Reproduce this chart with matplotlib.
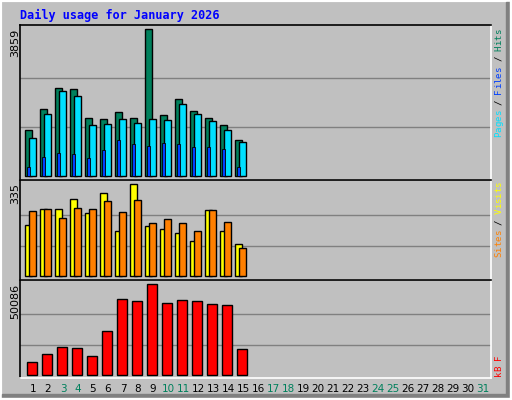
import matplotlib
matplotlib.use("Agg")
import matplotlib.pyplot as plt
from matplotlib.patches import Rectangle
import numpy as np

days = list(range(1, 32))
weekend_days = [3, 4, 10, 11, 17, 18, 24, 25, 31]
hits = [1199, 1750, 2301, 2275, 1514, 1488, 1671, 1514, 3859, 1593, 2013, 1698, 1514, 1330, 936]
pages = [989, 1619, 2223, 2091, 1330, 1356, 1488, 1383, 1488, 1461, 1881, 1619, 1435, 1199, 884]
files = [236, 499, 604, 578, 473, 683, 945, 840, 788, 866, 840, 761, 761, 709, 236]
visits = [186, 244, 244, 281, 230, 302, 164, 335, 183, 172, 157, 128, 241, 164, 117]
sites = [237, 244, 212, 248, 244, 273, 233, 277, 193, 208, 193, 164, 241, 197, 103]
kbytes = [7312, 11699, 15538, 14989, 10602, 24312, 41859, 40763, 50086, 39666, 41311, 40763, 39118, 38570, 14441]

W, H = 512, 400
fig = plt.figure(figsize=(W/100, H/100), dpi=100, facecolor='#C0C0C0')
def fr(x0, y0, x1, y1):
    return [x0/W, 1-y1/H, (x1-x0)/W, (y1-y0)/H]

# outer frame: white border, dark shadow right/bottom
tf = fig.transFigure
fig.add_artist(Rectangle((0, 0), 1, 1, transform=tf, facecolor='none', edgecolor='white', lw=3, zorder=0))
fig.add_artist(Rectangle((506/W, 0), 6/W, 398/H, transform=tf, color='#808080', zorder=0))
fig.add_artist(Rectangle((2/W, 0), 510/W, 6/H, transform=tf, color='#808080', zorder=0))
fig.add_artist(Rectangle((510/W, 0), 2/W, 1, transform=tf, color='white', zorder=0))
fig.add_artist(Rectangle((0, 0), 1, 2/H, transform=tf, color='white', zorder=0))

GREEN = '#00805C'; CYAN = '#00E0FF'; BLUE = '#0040FF'; YEL = '#FFFF00'; ORA = '#FF8000'; RED = '#FF0000'
px = 1/15
xlim = (1 - 13/15, 31 + 8/15)

def setup(ax, ylim, maxv):
    ax.set_facecolor('#C0C0C0')
    ax.set_xlim(*xlim); ax.set_ylim(*ylim)
    for y in (maxv/3, 2*maxv/3):
        ax.axhline(y, color='#808080', lw=1.0, zorder=1)
    ax.set_xticks([]); ax.set_yticks([])
    ax.spines['left'].set_color('black'); ax.spines['top'].set_color('black')
    ax.spines['right'].set_color('white'); ax.spines['bottom'].set_color('white')
    for s in ax.spines.values():
        s.set_linewidth(1.2)

x = np.arange(1, len(hits)+1)
ax1 = fig.add_axes(fr(20, 25, 491, 180))
setup(ax1, (-105, 3964), 3859)
ax1.bar(x - 8*px, hits, width=7*px, align='edge', color=GREEN, edgecolor='black', lw=1, zorder=2)
ax1.bar(x - 4*px, pages, width=7*px, align='edge', color=CYAN, edgecolor='black', lw=1, zorder=3)
ax1.bar(x - 6.5*px, files, width=3*px, align='edge', color=BLUE, edgecolor='black', lw=0.6, zorder=4)

ax2 = fig.add_axes(fr(20, 180, 491, 279.5))
setup(ax2, (-10.9, 349.5), 335)
ax2.bar(x - 8*px, visits, width=7*px, align='edge', color=YEL, edgecolor='black', lw=1, zorder=2)
ax2.bar(x - 4*px, sites, width=7*px, align='edge', color=ORA, edgecolor='black', lw=1, zorder=3)

ax3 = fig.add_axes(fr(20, 279.5, 491, 378))
setup(ax3, (-1534, 52442), 50086)
ax3.bar(x - 6.5*px, kbytes, width=10*px, align='edge', color=RED, edgecolor='black', lw=1, zorder=2)

mono = 'DejaVu Sans Mono'
fig.text(20/W, 1-15/H, 'Daily usage for January 2026', color='#0000FF', fontsize=8.5,
         fontweight='bold', family=mono, va='center', ha='left')

for lab, ytop in (('3859', 29), ('335', 183), ('50086', 284)):
    fig.text(15/W, 1-ytop/H, lab, rotation=90, fontsize=8, va='top', ha='center', color='black')

for d in days:
    xp = 33 + (d-1)*15
    fig.text(xp/W, 1-389/H, str(d), fontsize=7.5, ha='center', va='center',
             color=GREEN if d in weekend_days else 'black')

# right rotated legends, one character at a time
cw = 5.4
def legend(segs, ybottom):
    y = ybottom
    for txt, col in segs:
        for ch in txt:
            if ch != ' ':
                fig.text(499/W, 1-(y - cw/2)/H, ch, rotation=90, fontsize=6.6, family=mono,
                         color=col, ha='center', va='center')
            y -= cw
legend([('Pages', CYAN), (' / ', 'black'), ('Files', BLUE), (' / ', 'black'), ('Hits', GREEN)], 137)
legend([('Sites', ORA), (' / ', 'black'), ('Visits', YEL)], 257)
legend([('kB F', RED)], 376)

fig.savefig('out.png', dpi=100, facecolor='#C0C0C0')
